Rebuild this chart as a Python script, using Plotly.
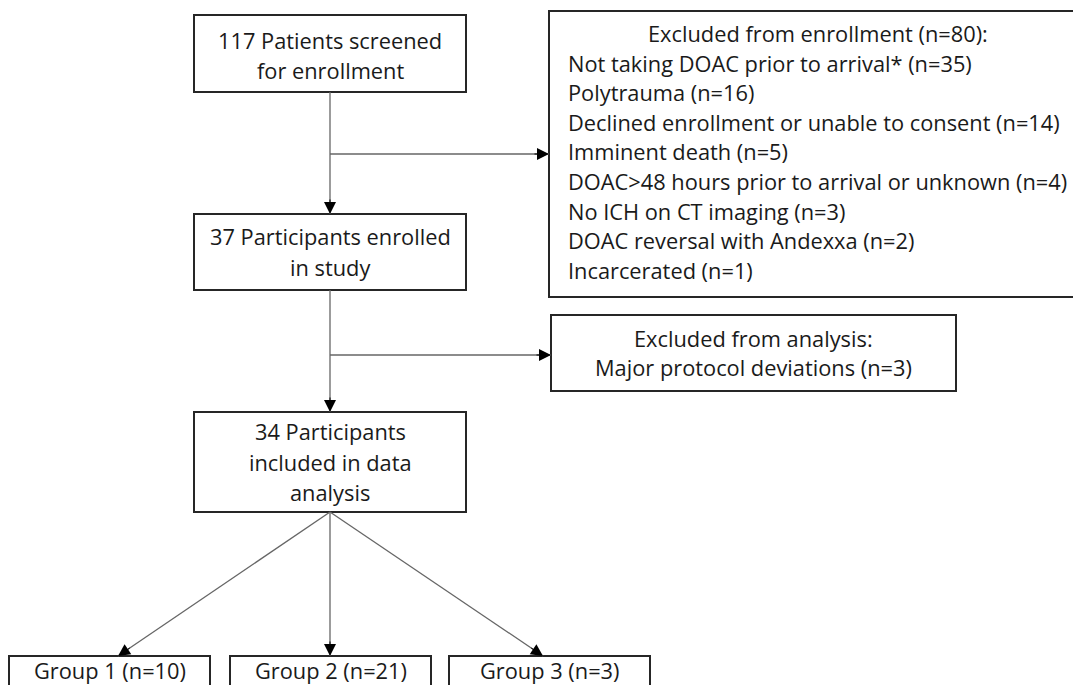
import math
import plotly.graph_objects as go

# ---- data ----
screened = 117
enrolled = 37
analyzed = 34
excluded_enrollment_total = 80
exclusion_reasons = [
    "Not taking DOAC prior to arrival*",
    "Polytrauma",
    "Declined enrollment or unable to consent",
    "Imminent death",
    "DOAC>48 hours prior to arrival or unknown",
    "No ICH on CT imaging",
    "DOAC reversal with Andexxa",
    "Incarcerated",
]
exclusion_counts = [35, 16, 14, 5, 4, 3, 2, 1]
analysis_exclusion_reason = "Major protocol deviations"
analysis_exclusion_count = 3
group_names = ["Group 1", "Group 2", "Group 3"]
group_counts = [10, 21, 3]

# ---- layout geometry (pixels, y downward) ----
W, H = 1073, 685
FONT = "Open Sans, Noto Sans, sans-serif"
FS = 21.8
TXT = "#1a1a1a"
BORDER = "#262626"
LINE = "#666666"
cx = 330

shapes = []
annotations = []


def box(x0, y0, x1, y1):
    shapes.append(dict(type="rect", xref="x", yref="y", x0=x0, y0=y0, x1=x1, y1=y1,
                       line=dict(color=BORDER, width=2), fillcolor="white", layer="below"))


def text(x, y, s, anchor="center"):
    annotations.append(dict(x=x, y=y, xref="x", yref="y", text=s, showarrow=False,
                            xanchor=anchor, yanchor="middle",
                            font=dict(family=FONT, size=FS, color=TXT)))


def arrow(x0, y0, x1, y1):
    shapes.append(dict(type="line", xref="x", yref="y", x0=x0, y0=y0, x1=x1, y1=y1,
                       line=dict(color=LINE, width=1.3), layer="below"))
    d = math.hypot(x1 - x0, y1 - y0)
    ux, uy = (x1 - x0) / d, (y1 - y0) / d
    annotations.append(dict(x=x1, y=y1, ax=x1 - ux * 16, ay=y1 - uy * 16,
                            xref="x", yref="y", axref="x", ayref="y",
                            text="", showarrow=True, arrowhead=2, arrowsize=2.4, arrowwidth=1,
                            arrowcolor="#000000", standoff=0, startstandoff=0))


# Box A
box(194, 15, 466, 92)
text(cx, 40, f"{screened} Patients screened")
text(cx, 70, "for enrollment")

# Exclusion box
box(549, 11, 1090, 297)
text(818, 33, f"Excluded from enrollment (n={excluded_enrollment_total}):")
for i, (r, n) in enumerate(zip(exclusion_reasons, exclusion_counts)):
    text(566, 63 + i * 29.6, f"{r} (n={n})", anchor="left")

# Box B
box(194, 214, 466, 290)
text(cx, 236, f"{enrolled} Participants enrolled")
text(cx, 267, "in study")

# Analysis exclusion box
box(551, 315, 956, 391)
text(753, 338, "Excluded from analysis:")
text(753, 367, f"{analysis_exclusion_reason} (n={analysis_exclusion_count})")

# Box C
box(194, 412, 466, 512)
text(cx, 431, f"{analyzed} Participants")
text(cx, 462, "included in data")
text(cx, 492, "analysis")

# Group boxes
group_x = [(9, 210), (230, 431), (449, 650)]
group_tip = [118, 330, 543]
for (x0, x1), name, n in zip(group_x, group_names, group_counts):
    box(x0, 656, x1, 700)
    text((x0 + x1) / 2, 670, f"{name} (n={n})")

# Connectors
arrow(cx, 92, cx, 214)
arrow(cx, 154, 549, 154)
arrow(cx, 290, cx, 412)
arrow(cx, 355, 551, 355)
for tx in group_tip:
    arrow(cx, 512, tx, 656)

fig = go.Figure()
fig.update_layout(
    width=W, height=H,
    margin=dict(l=0, r=0, t=0, b=0),
    paper_bgcolor="white", plot_bgcolor="white",
    xaxis=dict(range=[0, W], visible=False, fixedrange=True),
    yaxis=dict(range=[H, 0], visible=False, fixedrange=True),
    shapes=shapes, annotations=annotations, showlegend=False,
)
fig.write_html("out.html", config={"displayModeBar": False},
               post_script="document.body.style.margin='0';document.body.style.overflow='hidden';")
